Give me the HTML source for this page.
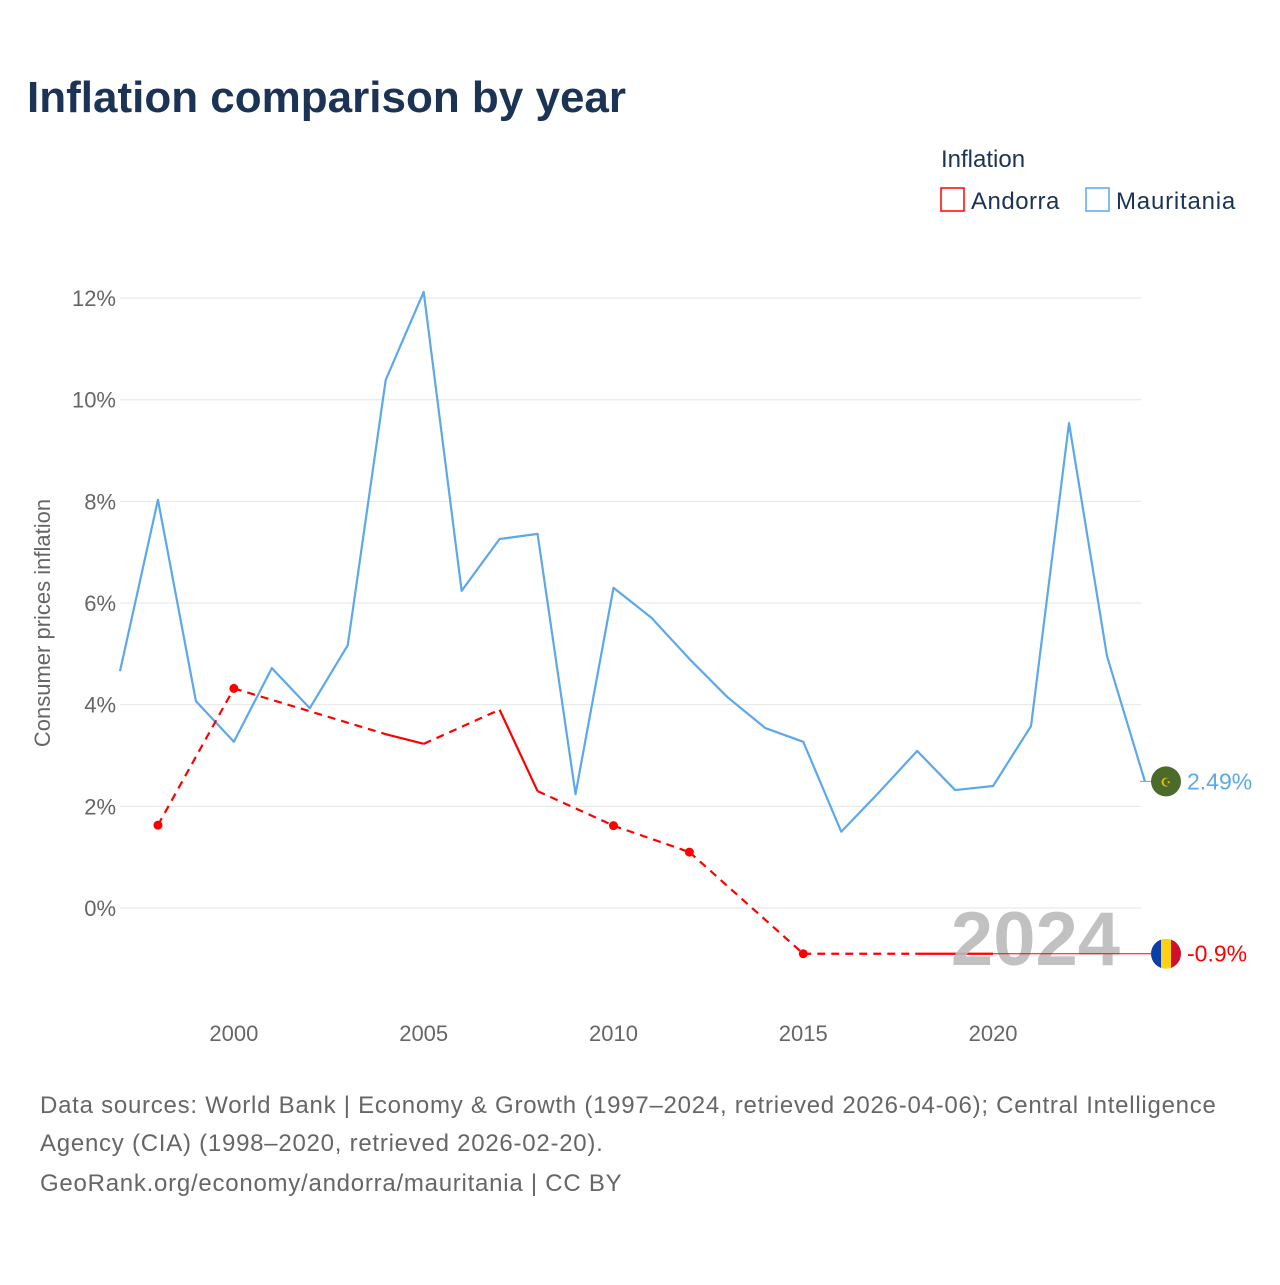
<!DOCTYPE html>
<html><head><meta charset="utf-8"><style>
body{margin:0;background:#fff;font-family:"Liberation Sans",sans-serif;}
svg text{font-family:"Liberation Sans",sans-serif;}
</style></head><body>
<svg id="chart" width="1280" height="1280" viewBox="0 0 1280 1280" xmlns="http://www.w3.org/2000/svg">
<text x="27" y="112" font-size="44" font-weight="bold" fill="#1b3354">Inflation comparison by year</text>
<text x="941" y="167" font-size="24" fill="#1b3354">Inflation</text>
<g><rect x="941" y="188" width="23" height="23" fill="none" stroke="#ff0000" stroke-width="1.5"/><text x="971" y="209" font-size="24" fill="#1b3354" letter-spacing="0.5">Andorra</text></g>
<g><rect x="1086" y="188" width="23" height="23" fill="none" stroke="#5ca8ea" stroke-width="1.5"/><text x="1116" y="209" font-size="24" fill="#1b3354" letter-spacing="0.8">Mauritania</text></g>
<text transform="translate(50,623) rotate(-90)" text-anchor="middle" font-size="22" fill="#666">Consumer prices inflation</text>
<g id="grid"></g><g id="xt"></g><g id="series"></g>
<text x="1120" y="965" text-anchor="end" font-size="76" font-weight="bold" fill="#bbb" opacity="0.9">2024</text>
<g id="ends"></g>
<g font-size="24" fill="#666" letter-spacing="0.75">
<text x="40" y="1113">Data sources: World Bank | Economy &amp; Growth (1997–2024, retrieved 2026-04-06); Central Intelligence</text>
<text x="40" y="1151">Agency (CIA) (1998–2020, retrieved 2026-02-20).</text>
<text x="40" y="1191">GeoRank.org/economy/andorra/mauritania | CC BY</text>
</g>
</svg>
<script>
const yTicks=[0,2,4,6,8,10,12];
const xTicks=[2000,2005,2010,2015,2020];
const mauYears=[1997,1998,1999,2000,2001,2002,2003,2004,2005,2006,2007,2008,2009,2010,2011,2012,2013,2014,2015,2016,2017,2018,2019,2020,2021,2022,2023,2024];
const mauVals=[4.66,8.03,4.07,3.27,4.72,3.93,5.17,10.39,12.12,6.24,7.26,7.36,2.24,6.30,5.71,4.90,4.15,3.54,3.27,1.50,2.28,3.09,2.32,2.40,3.58,9.54,4.96,2.49];
const andYears=[1998,2000,2004,2005,2007,2008,2010,2012,2015,2018,2019,2020];
const andVals=[1.63,4.32,3.42,3.23,3.90,2.30,1.62,1.10,-0.9,-0.9,-0.9,-0.9];
const NS="http://www.w3.org/2000/svg";
const X=y=>120+(y-1997)*37.96;
const Y=v=>908-v*50.83;
function mk(t,a,p){const e=document.createElementNS(NS,t);for(const k in a)e.setAttribute(k,a[k]);document.getElementById(p).appendChild(e);return e;}
yTicks.forEach(v=>{
 const l=mk('line',{x1:120,x2:1141,y1:Y(v),y2:Y(v),stroke:'#e6e6e6','stroke-width':1},'grid');
 
 
 const t=mk('text',{x:116,y:Y(v)+8,'text-anchor':'end','font-size':22,fill:'#666'},'grid');
 
 
 t.textContent=v+'%';
});
xTicks.forEach(y=>{
 const t=mk('text',{x:X(y),y:1041,'text-anchor':'middle','font-size':22,fill:'#666'},'xt');
 
 
 t.textContent=y;
});
const mp=mk('polyline',{points:mauYears.map((y,i)=>X(y)+','+Y(mauVals[i])).join(' '),fill:'none',stroke:'#5ca8ea','stroke-width':2.2,'stroke-linejoin':'round'},'series');


for(let i=0;i<andYears.length-1;i++){
 const gap=andYears[i+1]-andYears[i]>1;
 const s=mk('line',{x1:X(andYears[i]),y1:Y(andVals[i]),x2:X(andYears[i+1]),y2:Y(andVals[i+1]),stroke:'#ff0000','stroke-width':2.2,'stroke-dasharray':gap?'8,6':'none'},'series');
 
 
}
andYears.forEach((y,i)=>{
 const prev=i>0&&andYears[i-1]===y-1, next=i<andYears.length-1&&andYears[i+1]===y+1;
 if(!prev&&!next){const c=mk('circle',{cx:X(y),cy:Y(andVals[i]),r:4.5,fill:'#ff0000'},'series');
 
 }
});
const mLast=mauVals[mauVals.length-1], aLast=andVals[andVals.length-1];
const ml=mk('line',{x1:X(2024)-5,y1:Y(mLast),x2:1160,y2:Y(mLast),stroke:'#5ca8ea','stroke-width':1},'ends');


const al=mk('line',{x1:X(andYears[andYears.length-1]),y1:Y(aLast),x2:1160,y2:Y(aLast),stroke:'#ff0000','stroke-width':1},'ends');


const mf=mk('circle',{cx:1166,cy:Y(mLast),r:15,fill:'#4a6b2a'},'ends');


const ms=mk('text',{x:1166,y:Y(mLast)+5,'text-anchor':'middle','font-size':12,fill:'#f5c400'},'ends');


ms.textContent='☪';
const mt=mk('text',{x:1187,y:Y(mLast)+8,'font-size':23,fill:'#5ca8ea'},'ends');


mt.textContent=mLast.toFixed(2)+'%';
const ay=Y(aLast);
[['#0a3fa8',1151],['#fcd116',1161],['#d0102c',1171]].forEach(([c,x])=>{
 const r=mk('rect',{x:x,y:ay-15,width:10,height:30,fill:c,'clip-path':'url(#fc)'},'ends');
 
 
});
const defs=mk('defs',{},'ends');const cp=document.createElementNS(NS,'clipPath');cp.setAttribute('id','fc');
const cc=document.createElementNS(NS,'circle');cc.setAttribute('cx',1166);cc.setAttribute('cy',ay);cc.setAttribute('r',15);cp.appendChild(cc);defs.appendChild(cp);
const at=mk('text',{x:1187,y:ay+8,'font-size':23,fill:'#ff0000'},'ends');


at.textContent=aLast.toFixed(1)+'%';
</script>
</body></html>
